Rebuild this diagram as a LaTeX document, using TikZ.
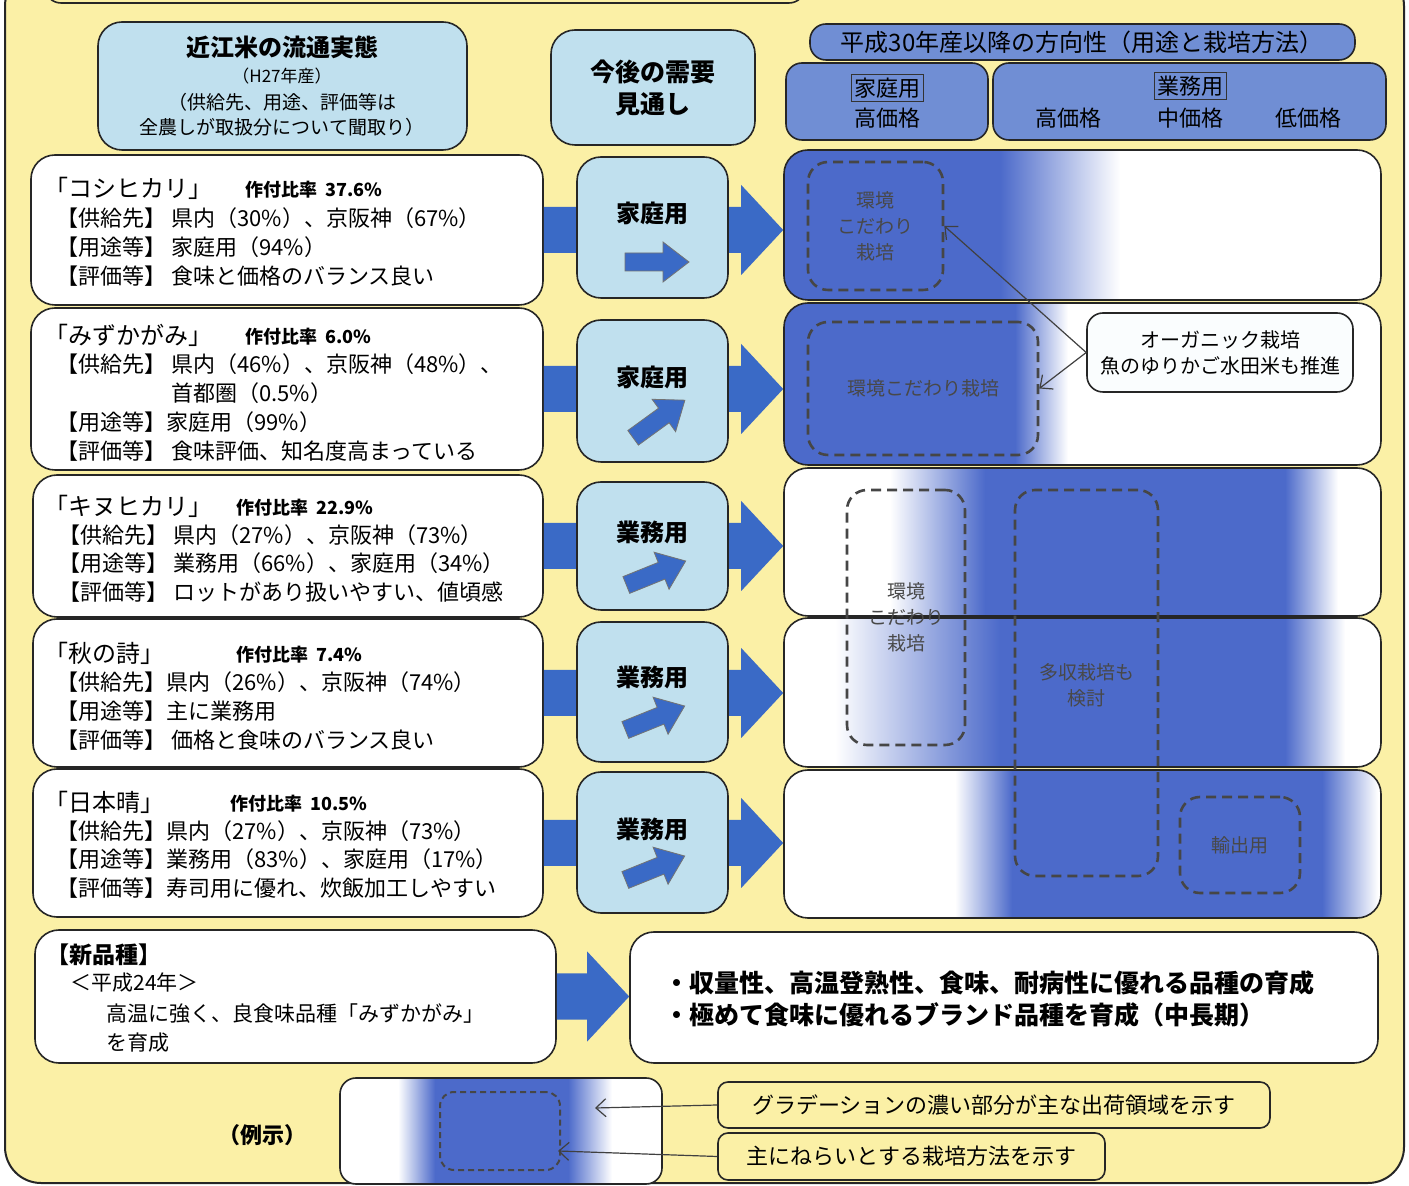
\documentclass[tikz,border=0pt]{standalone}
\usepackage{fontspec}
\setmainfont{Noto Sans CJK JP}
\usetikzlibrary{fit,calc,arrows.meta}

\definecolor{bgyellow}{RGB}{251,240,166}
\definecolor{paleblue}{RGB}{192,224,238}
\definecolor{midblue}{RGB}{112,142,212}
\definecolor{deepblue}{RGB}{76,106,202}
\definecolor{arrowblue}{RGB}{58,106,198}
\definecolor{dashgray}{RGB}{70,70,70}
\definecolor{notegray}{RGB}{72,72,72}

\newcommand\fs[2]{\fontsize{#1}{#2}\selectfont}
% big block arrow from a box on the left to a box on the right
\newcommand\bigarrow[2]{%
  \path (#1.east) coordinate (ba-s) (#2.west |- #1.east) coordinate (ba-t);
  \fill[arrowblue] ($(ba-s)+(0,-23)$) -- ($(ba-t)+(-42,-23)$) -- ($(ba-t)+(-42,-45)$)
    -- (ba-t) -- ($(ba-t)+(-42,45)$) -- ($(ba-t)+(-42,23)$) -- ($(ba-s)+(0,23)$) -- cycle;}

\tikzset{
  smallarrow/.pic={\filldraw[fill=arrowblue, draw=black!55, line width=0.4pt]
    (-32,-9) -- (6,-9) -- (6,-20) -- (32,0) -- (6,20) -- (6,9) -- (-32,9) -- cycle;}
}

\begin{document}
\begin{tikzpicture}[x=0.5pt, y=-0.5pt,
    box/.style={draw=black!85, line width=0.8pt, rounded corners=12pt, inner sep=0pt},
    leftbox/.style={box, fill=white},
    palebox/.style={box, fill=paleblue},
    headbox/.style={box, fill=midblue, rounded corners=8pt},
    dashbox/.style={draw=dashgray, line width=1.3pt, dash pattern=on 5pt off 3pt,
      rounded corners=10pt, inner sep=0pt},
    note/.style={inner sep=0pt, align=center, text=notegray, font=\fs{9.5}{13}},
    title/.style={anchor=west, inner sep=0pt, font=\fs{12}{14}},
    ratio/.style={anchor=west, inner sep=0pt, font=\bfseries\fs{9}{11}},
    body/.style={anchor=west, inner sep=0pt, font=\fs{11}{13}},
    midlabel/.style={inner sep=0pt, font=\bfseries\fs{12}{14}},
    head/.style={inner sep=0pt, font=\fs{11}{13}},
    lead/.style={-{Straight Barb[length=5pt,width=9pt]}, draw=black!75, line width=0.6pt}]

  \clip (0,0) rectangle (1409,1186);
  \fill[white] (0,0) rectangle (1409,1186);

  % frame
  \node[draw=black!85, line width=1pt, fill=bgyellow, rounded corners=18pt, inner sep=0pt,
    fit={(5,-30) (1404,1183)}] (frame) {};
  \node[draw=black!85, line width=0.8pt, rounded corners=8pt, inner sep=0pt,
    fit={(45,-40) (805,3)}] (top) {};

  % headers
  \node[palebox, fit={(98,22) (467,150)}] (H1) {};
  \node[inner sep=0pt, font=\bfseries\fs{12}{14}] (H1a) at (282,47) {近江米の流通実態};
  \node[inner sep=0pt, font=\fs{8.5}{10}] (H1b) at (282,76) {（H27年産）};
  \node[inner sep=0pt, align=center, font=\fs{9.5}{12.5}] (H1c) at (282,115)
    {（供給先、用途、評価等は\\全農しが取扱分について聞取り）};
  \node[palebox, fit={(551,30) (755,145)}] (H2) {};
  \node[inner sep=0pt, align=center, font=\bfseries\fs{12.5}{16}] (H2a) at (653,88) {今後の需要\\見通し};
  \node[headbox, fit={(810,24) (1355,60)}] (H3) {};
  \node[inner sep=0pt, font=\fs{12}{14}] (H3a) at (1082,42) {平成30年産以降の方向性（用途と栽培方法）};
  \node[headbox, fit={(786,63) (988,140)}] (H4) {};
  \node[head, draw=black!80, line width=0.5pt, inner sep=1.5pt] (H4a) at (887,88) {家庭用};
  \node[head] (H4b) at (887,118) {高価格};
  \node[headbox, fit={(993,63) (1386,140)}] (H5) {};
  \node[head, draw=black!80, line width=0.5pt, inner sep=1.5pt] (H5a) at (1190,86) {業務用};
  \node[head] (H5b) at (1068,118) {高価格};
  \node[head] (H5c) at (1190,118) {中価格};
  \node[head] (H5d) at (1308,118) {低価格};

  % right gradient boxes
  \begin{scope}
    \clip[rounded corners=12pt] (784,150) rectangle (1381,300);
    \fill[white] (784,150) rectangle (1381,300);
    \fill[deepblue] (784,150) rectangle (1000,300);
    \shade[left color=deepblue, right color=white] (1000,150) rectangle (1120,300);
  \end{scope}
  \begin{scope}
    \clip[rounded corners=12pt] (784,303) rectangle (1381,465);
    \fill[white] (784,303) rectangle (1381,465);
    \fill[deepblue] (784,303) rectangle (1015,465);
    \shade[left color=deepblue, right color=white] (1015,303) rectangle (1068,465);
  \end{scope}
  \begin{scope}
    \clip[rounded corners=12pt] (784,468) rectangle (1381,616);
    \fill[white] (784,468) rectangle (1381,616);
    \shade[left color=white, right color=deepblue] (890,468) rectangle (985,616);
    \fill[deepblue] (985,468) rectangle (1285,616);
    \shade[left color=deepblue, right color=white] (1285,468) rectangle (1338,616);
  \end{scope}
  \begin{scope}
    \clip[rounded corners=12pt] (784,618) rectangle (1381,767);
    \fill[white] (784,618) rectangle (1381,767);
    \shade[left color=white, right color=deepblue] (835,618) rectangle (1000,767);
    \fill[deepblue] (1000,618) rectangle (1285,767);
    \shade[left color=deepblue, right color=white] (1285,618) rectangle (1345,767);
  \end{scope}
  \begin{scope}
    \clip[rounded corners=12pt] (784,770) rectangle (1381,918);
    \fill[white] (784,770) rectangle (1381,918);
    \shade[left color=white, right color=deepblue] (955,770) rectangle (1012,918);
    \fill[deepblue] (1012,770) rectangle (1322,918);
    \shade[left color=deepblue, right color=white] (1322,770) rectangle (1378,918);
  \end{scope}
  \node[box, fit={(784,150) (1381,300)}] (R1) {};
  \node[box, fit={(784,303) (1381,465)}] (R2) {};
  \node[box, fit={(784,468) (1381,616)}] (R3) {};
  \node[box, fit={(784,618) (1381,767)}] (R4) {};
  \node[box, fit={(784,770) (1381,918)}] (R5) {};

  % left boxes
  \node[leftbox, fit={(31,155) (543,305)}] (L1) {};
  \node[leftbox, fit={(31,308) (543,470)}] (L2) {};
  \node[leftbox, fit={(33,475) (543,617)}] (L3) {};
  \node[leftbox, fit={(33,619) (543,767)}] (L4) {};
  \node[leftbox, fit={(33,769) (543,917)}] (L5) {};

  \node[title] (L1t) at (44,188) {「コシヒカリ」};
  \node[ratio] (L1r) at (245,190) {作付比率\ \ 37.6\%};
  \foreach \t [count=\i] in {{【供給先】 県内（30\%）、京阪神（67\%）},
      {【用途等】 家庭用（94\%）}, {【評価等】 食味と価格のバランス良い}}
    \node[body] (L1b\i) at (56,189+29*\i) {\t};

  \node[title] (L2t) at (44,335) {「みずかがみ」};
  \node[ratio] (L2r) at (245,337) {作付比率\ \ 6.0\%};
  \foreach \t [count=\i] in {{【供給先】 県内（46\%）、京阪神（48\%）、},
      {\phantom{【供給先】 }首都圏（0.5\%）}, {【用途等】家庭用（99\%）},
      {【評価等】 食味評価、知名度高まっている}}
    \node[body] (L2b\i) at (56,335+29*\i) {\t};

  \node[title] (L3t) at (44,506) {「キヌヒカリ」};
  \node[ratio] (L3r) at (236,508) {作付比率\ \ 22.9\%};
  \foreach \t [count=\i] in {{【供給先】 県内（27\%）、京阪神（73\%）},
      {【用途等】 業務用（66\%）、家庭用（34\%）}, {【評価等】 ロットがあり扱いやすい、値頃感}}
    \node[body] (L3b\i) at (58,506+28.7*\i) {\t};

  \node[title] (L4t) at (44,653) {「秋の詩」};
  \node[ratio] (L4r) at (236,655) {作付比率\ \ 7.4\%};
  \foreach \t [count=\i] in {{【供給先】県内（26\%）、京阪神（74\%）},
      {【用途等】主に業務用}, {【評価等】 価格と食味のバランス良い}}
    \node[body] (L4b\i) at (56,653+29*\i) {\t};

  \node[title] (L5t) at (44,802) {「日本晴」};
  \node[ratio] (L5r) at (230,804) {作付比率\ \ 10.5\%};
  \foreach \t [count=\i] in {{【供給先】県内（27\%）、京阪神（73\%）},
      {【用途等】業務用（83\%）、家庭用（17\%）}, {【評価等】寿司用に優れ、炊飯加工しやすい}}
    \node[body] (L5b\i) at (56,802+28.8*\i) {\t};

  % arrows behind the middle boxes
  \bigarrow{L1}{R1}
  \bigarrow{L2}{R2}
  \bigarrow{L3}{R3}
  \bigarrow{L4}{R4}
  \bigarrow{L5}{R5}

  % middle boxes
  \node[palebox, fit={(577,157) (728,298)}] (M1) {};
  \node[palebox, fit={(577,320) (728,462)}] (M2) {};
  \node[palebox, fit={(577,482) (728,610)}] (M3) {};
  \node[palebox, fit={(577,622) (728,762)}] (M4) {};
  \node[palebox, fit={(577,772) (728,913)}] (M5) {};
  \node[midlabel] (M1t) at (652,213) {家庭用};
  \node[midlabel] (M2t) at (652,377) {家庭用};
  \node[midlabel] (M3t) at (652,532) {業務用};
  \node[midlabel] (M4t) at (652,677) {業務用};
  \node[midlabel] (M5t) at (652,829) {業務用};
  \pic at (657,262) {smallarrow};
  \pic[rotate=36] at (659,419) {smallarrow};
  \pic[rotate=22] at (656,573) {smallarrow};
  \pic[rotate=22] at (655,718) {smallarrow};
  \pic[rotate=22] at (655,868) {smallarrow};

  % cultivation areas
  \node[dashbox, fit={(808,162) (943,290)}] (D1) {};
  \node[dashbox, fit={(808,322) (1038,455)}] (D2) {};
  \node[dashbox, fit={(847,490) (965,745)}] (D3) {};
  \node[dashbox, fit={(1015,490) (1158,876)}] (D4) {};
  \node[dashbox, fit={(1180,797) (1300,893)}] (D5) {};
  \node[note] (D1t) at (D1.center) {環境\\こだわり\\栽培};
  \node[note] (D2t) at (D2.center) {環境こだわり栽培};
  \node[note] (D3t) at (D3.center) {環境\\こだわり\\栽培};
  \node[note] (D4t) at ($(D4.center)+(0,2)$) {多収栽培も\\検討};
  \node[note] (D5t) at (D5.center) {輸出用};

  \node[box, fill=white!92!paleblue, rounded corners=8pt, fit={(1087,313) (1353,392)}] (C) {};
  \node[inner sep=0pt, align=center, font=\fs{10}{13}] (Ct) at (C.center)
    {オーガニック栽培\\魚のゆりかご水田米も推進};
  \draw[lead] (C.west) -- (D1.east);
  \draw[lead] (C.west) -- (D2.east);

  % new variety
  \node[leftbox, fit={(35,930) (556,1063)}] (N) {};
  \node[anchor=west, inner sep=0pt, font=\bfseries\fs{11.5}{13}] (N1) at (46,955) {【新品種】};
  \node[anchor=west, inner sep=0pt, font=\fs{10.5}{13}] (N2) at (70,983) {＜平成24年＞};
  \node[anchor=west, inner sep=0pt, font=\fs{10.5}{13}] (N3) at (106,1014) {高温に強く、良食味品種「みずかがみ」};
  \node[anchor=west, inner sep=0pt, font=\fs{10.5}{13}] (N4) at (106,1043) {を育成};
  \node[leftbox, fit={(630,932) (1378,1063)}] (B) {};
  \node[anchor=west, inner sep=0pt, font=\bfseries\fs{12.5}{14}] (B1) at (664,983)
    {・収量性、高温登熟性、食味、耐病性に優れる品種の育成};
  \node[anchor=west, inner sep=0pt, font=\bfseries\fs{12.5}{14}] (B2) at (664,1015)
    {・極めて食味に優れるブランド品種を育成（中長期）};
  \bigarrow{N}{B}

  % legend
  \node[inner sep=0pt, font=\bfseries\fs{11}{13}] (X) at (262,1135) {（例示）};
  \begin{scope}
    \clip[rounded corners=8pt] (340,1078) rectangle (662,1184);
    \fill[white] (340,1078) rectangle (662,1184);
    \shade[left color=white, right color=deepblue] (398,1078) rectangle (435,1184);
    \fill[deepblue] (435,1078) rectangle (568,1184);
    \shade[left color=deepblue, right color=white] (568,1078) rectangle (612,1184);
  \end{scope}
  \node[box, rounded corners=8pt, fit={(340,1078) (662,1184)}] (G) {};
  \node[dashbox, rounded corners=7pt, line width=1pt, dash pattern=on 3pt off 2pt,
    fit={(440,1092) (560,1170)}] (GD) {};
  \coordinate (g1) at (595,1108);
  \coordinate (g2) at (558,1151);
  \node[box, fill=bgyellow, rounded corners=5pt, fit={(718,1082) (1270,1128)}] (K1) {};
  \node[inner sep=0pt, font=\fs{11}{13}] (K1t) at (K1.center) {グラデーションの濃い部分が主な出荷領域を示す};
  \node[box, fill=bgyellow, rounded corners=5pt, fit={(718,1133) (1105,1180)}] (K2) {};
  \node[inner sep=0pt, font=\fs{11}{13}] (K2t) at (K2.center) {主にねらいとする栽培方法を示す};
  \draw[lead] (K1.west) -- (g1);
  \draw[lead] (K2.west) -- (g2);
\end{tikzpicture}
\end{document}
